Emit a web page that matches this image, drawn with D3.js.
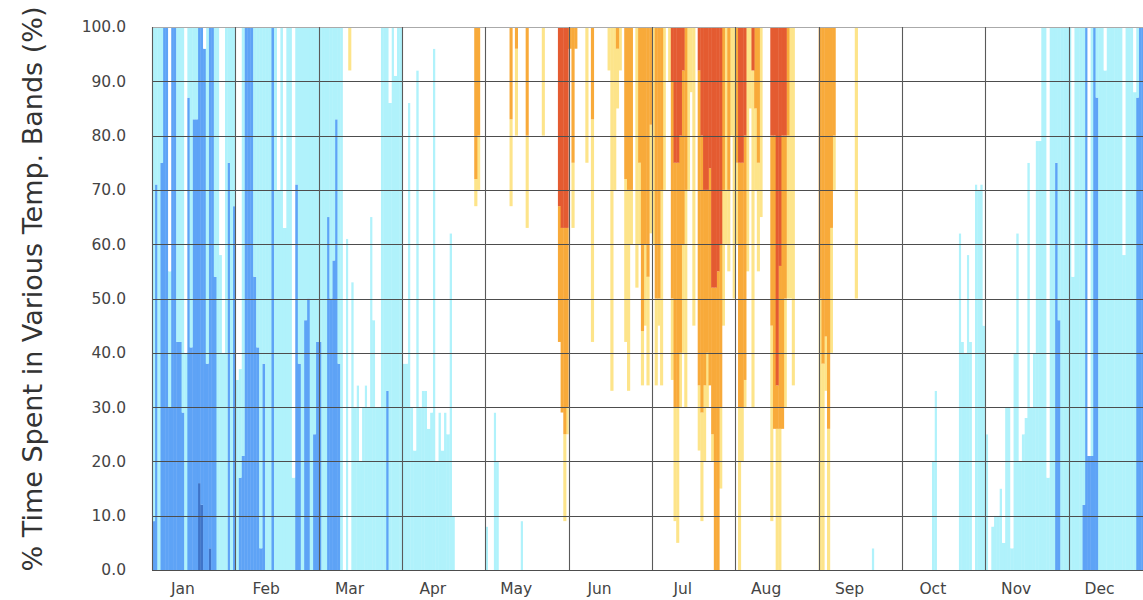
<!DOCTYPE html>
<html lang="en">
<head>
<meta charset="utf-8">
<title>Time Spent in Temperature Bands</title>
<script src="https://d3js.org/d3.v7.min.js"></script>
<style>
  body { margin: 0; background: #fff; }
  text { font-family: "DejaVu Sans", Verdana, sans-serif; }
</style>
</head>
<body>
<script>
// x categories
var months = ["Jan","Feb","Mar","Apr","May","Jun","Jul","Aug","Sep","Oct","Nov","Dec"];
// stacked bands, coldest at the bottom
var bands = ["very cold","cold","cool","comfortable","warm","hot","very hot"];
var yTicks = [0,10,20,30,40,50,60,70,80,90,100];

// one row per day: % of the day in each band, same order as bands
var jan = [[0,9,91,0,0,0,0],[0,71,29,0,0,0,0],[0,0,100,0,0,0,0],[0,75,25,0,0,0,0],[0,100,0,0,0,0,0],[0,100,0,0,0,0,0],
  [0,30,25,45,0,0,0],[0,100,0,0,0,0,0],[0,100,0,0,0,0,0],[0,42,58,0,0,0,0],[0,42,58,0,0,0,0],[0,29,71,0,0,0,0],
  [0,0,40,60,0,0,0],[0,87,13,0,0,0,0],[0,41,59,0,0,0,0],[0,83,17,0,0,0,0],[0,83,17,0,0,0,0],[16,84,0,0,0,0,0],
  [12,88,0,0,0,0,0],[0,96,0,4,0,0,0],[0,38,62,0,0,0,0],[4,96,0,0,0,0,0],[0,100,0,0,0,0,0],[0,54,46,0,0,0,0],
  [0,0,100,0,0,0,0],[0,0,58,42,0,0,0],[0,0,40,60,0,0,0],[0,0,100,0,0,0,0],[0,75,25,0,0,0,0],[0,0,100,0,0,0,0],
  [0,67,33,0,0,0,0]];
var feb = [[0,0,35,65,0,0,0],[0,17,20,63,0,0,0],[0,21,79,0,0,0,0],[0,100,0,0,0,0,0],[0,100,0,0,0,0,0],[0,100,0,0,0,0,0],
  [0,54,46,0,0,0,0],[0,41,59,0,0,0,0],[0,4,96,0,0,0,0],[0,38,62,0,0,0,0],[0,0,100,0,0,0,0],[0,0,100,0,0,0,0],
  [0,100,0,0,0,0,0],[0,0,100,0,0,0,0],[0,0,70,30,0,0,0],[0,0,100,0,0,0,0],[0,0,63,37,0,0,0],[0,0,100,0,0,0,0],
  [0,0,100,0,0,0,0],[0,0,17,83,0,0,0],[0,71,29,0,0,0,0],[0,38,62,0,0,0,0],[0,0,100,0,0,0,0],[0,46,54,0,0,0,0],
  [0,50,50,0,0,0,0],[0,0,100,0,0,0,0],[0,25,75,0,0,0,0],[0,42,58,0,0,0,0]];
var mar = [[0,42,58,0,0,0,0],[0,0,100,0,0,0,0],[0,0,100,0,0,0,0],[0,65,35,0,0,0,0],[0,50,50,0,0,0,0],[0,57,43,0,0,0,0],
  [0,83,17,0,0,0,0],[0,38,62,0,0,0,0],[0,0,100,0,0,0,0],[0,0,0,100,0,0,0],[0,0,61,39,0,0,0],[0,0,0,92,8,0,0],
  [0,0,53,47,0,0,0],[0,0,30,70,0,0,0],[0,0,34,66,0,0,0],[0,0,20,80,0,0,0],[0,0,30,70,0,0,0],[0,0,34,66,0,0,0],
  [0,0,30,70,0,0,0],[0,0,65,35,0,0,0],[0,0,46,54,0,0,0],[0,0,30,70,0,0,0],[0,0,30,70,0,0,0],[0,0,100,0,0,0,0],
  [0,0,100,0,0,0,0],[0,33,67,0,0,0,0],[0,0,86,14,0,0,0],[0,0,100,0,0,0,0],[0,0,91,9,0,0,0],[0,0,100,0,0,0,0],
  [0,0,100,0,0,0,0]];
var apr = [[0,0,38,62,0,0,0],[0,0,38,62,0,0,0],[0,0,86,14,0,0,0],[0,0,30,70,0,0,0],[0,0,22,78,0,0,0],[0,0,92,8,0,0,0],
  [0,0,30,70,0,0,0],[0,0,33,67,0,0,0],[0,0,33,67,0,0,0],[0,0,26,74,0,0,0],[0,0,29,71,0,0,0],[0,0,96,4,0,0,0],
  [0,0,20,80,0,0,0],[0,0,29,71,0,0,0],[0,0,22,78,0,0,0],[0,0,29,71,0,0,0],[0,0,25,75,0,0,0],[0,0,62,38,0,0,0],
  [0,0,10,90,0,0,0],[0,0,0,100,0,0,0],[0,0,0,100,0,0,0],[0,0,0,100,0,0,0],[0,0,0,100,0,0,0],[0,0,0,100,0,0,0],
  [0,0,0,100,0,0,0],[0,0,0,100,0,0,0],[0,0,0,67,5,28,0],[0,0,0,70,10,20,0],[0,0,0,100,0,0,0],[0,0,0,100,0,0,0]];
var may = [[0,0,8,92,0,0,0],[0,0,0,100,0,0,0],[0,0,0,100,0,0,0],[0,0,29,71,0,0,0],[0,0,20,80,0,0,0],[0,0,0,100,0,0,0],
  [0,0,0,100,0,0,0],[0,0,0,100,0,0,0],[0,0,0,100,0,0,0],[0,0,0,67,16,17,0],[0,0,0,100,0,0,0],[0,0,0,80,16,4,0],
  [0,0,0,100,0,0,0],[0,0,9,91,0,0,0],[0,0,0,100,0,0,0],[0,0,0,63,17,20,0],[0,0,0,100,0,0,0],[0,0,0,100,0,0,0],
  [0,0,0,100,0,0,0],[0,0,0,100,0,0,0],[0,0,0,100,0,0,0],[0,0,0,80,20,0,0],[0,0,0,100,0,0,0],[0,0,0,100,0,0,0],
  [0,0,0,100,0,0,0],[0,0,0,100,0,0,0],[0,0,0,100,0,0,0],[0,0,0,42,0,25,33],[0,0,0,29,0,34,37],[0,0,0,9,16,38,37],
  [0,0,0,25,5,33,37]];
var jun = [[0,0,0,96,0,4,0],[0,0,0,63,12,25,0],[0,0,0,96,0,4,0],[0,0,0,100,0,0,0],[0,0,0,100,0,0,0],[0,0,0,100,0,0,0],
  [0,0,0,75,25,0,0],[0,0,0,100,0,0,0],[0,0,0,42,41,17,0],[0,0,0,100,0,0,0],[0,0,0,100,0,0,0],[0,0,0,100,0,0,0],
  [0,0,0,100,0,0,0],[0,0,0,100,0,0,0],[0,0,0,92,8,0,0],[0,0,0,33,67,0,0],[0,0,0,70,30,0,0],[0,0,0,85,11,4,0],
  [0,0,0,92,8,0,0],[0,0,0,100,0,0,0],[0,0,0,42,30,28,0],[0,0,0,33,37,30,0],[0,0,0,60,10,30,0],[0,0,0,100,0,0,0],
  [0,0,0,52,48,0,0],[0,0,0,60,15,25,0],[0,0,0,34,10,56,0],[0,0,0,45,15,40,0],[0,0,0,34,20,46,0],[0,0,0,62,20,18,0]];
var jul = [[0,0,0,60,40,0,0],[0,0,0,34,16,50,0],[0,0,0,45,5,50,0],[0,0,0,34,36,30,0],[0,0,0,70,30,0,0],[0,0,0,100,0,0,0],
  [0,0,0,90,10,0,0],[0,0,0,35,15,40,10],[0,0,0,9,21,45,25],[0,0,0,5,25,45,25],[0,0,0,30,10,40,20],[0,0,0,40,20,32,8],
  [0,0,0,30,40,30,0],[0,0,0,70,30,0,0],[0,0,0,88,12,0,0],[0,0,0,45,55,0,0],[0,0,0,100,0,0,0],[0,0,0,22,12,58,8],
  [0,0,0,9,20,51,20],[0,0,0,20,14,36,30],[0,0,0,30,10,30,30],[0,0,0,34,0,40,26],[0,0,0,20,5,27,48],[0,0,0,0,0,52,48],
  [0,0,0,0,0,55,45],[0,0,0,15,15,30,40],[0,0,0,45,25,30,0],[0,0,0,60,40,0,0],[0,0,0,55,15,30,0],[0,0,0,80,20,0,0],
  [0,0,0,50,50,0,0]];
var aug = [[0,0,0,60,15,25,0],[0,0,0,0,30,45,25],[0,0,0,20,10,45,25],[0,0,0,30,5,45,20],[0,0,0,55,45,0,0],[0,0,0,85,15,0,0],
  [0,0,0,30,62,0,8],[0,0,0,70,15,15,0],[0,0,0,55,20,25,0],[0,0,0,65,35,0,0],[0,0,0,100,0,0,0],[0,0,0,100,0,0,0],
  [0,0,0,100,0,0,0],[0,0,0,9,36,35,20],[0,0,0,26,0,54,20],[0,0,0,0,26,8,66],[0,0,0,0,26,30,44],[0,0,0,26,0,54,20],
  [0,0,0,30,20,30,20],[0,0,0,50,30,20,0],[0,0,0,50,50,0,0],[0,0,0,34,66,0,0],[0,0,0,100,0,0,0],[0,0,0,100,0,0,0],
  [0,0,0,100,0,0,0],[0,0,0,100,0,0,0],[0,0,0,100,0,0,0],[0,0,0,100,0,0,0],[0,0,0,100,0,0,0],[0,0,0,100,0,0,0],
  [0,0,0,100,0,0,0]];
var sep = [[0,0,0,0,50,50,0],[0,0,0,0,38,62,0],[0,0,0,33,10,57,0],[0,0,0,0,26,74,0],[0,0,0,40,23,37,0],[0,0,0,70,10,20,0],
  [0,0,0,100,0,0,0],[0,0,0,100,0,0,0],[0,0,0,100,0,0,0],[0,0,0,100,0,0,0],[0,0,0,100,0,0,0],[0,0,0,100,0,0,0],
  [0,0,0,100,0,0,0],[0,0,0,50,50,0,0],[0,0,0,100,0,0,0],[0,0,0,100,0,0,0],[0,0,0,100,0,0,0],[0,0,0,100,0,0,0],
  [0,0,0,100,0,0,0],[0,0,4,96,0,0,0],[0,0,0,100,0,0,0],[0,0,0,100,0,0,0],[0,0,0,100,0,0,0],[0,0,0,100,0,0,0],
  [0,0,0,100,0,0,0],[0,0,0,100,0,0,0],[0,0,0,100,0,0,0],[0,0,0,100,0,0,0],[0,0,0,100,0,0,0],[0,0,0,100,0,0,0]];
var oct = [[0,0,0,100,0,0,0],[0,0,0,100,0,0,0],[0,0,0,100,0,0,0],[0,0,0,100,0,0,0],[0,0,0,100,0,0,0],[0,0,0,100,0,0,0],
  [0,0,0,100,0,0,0],[0,0,0,100,0,0,0],[0,0,0,100,0,0,0],[0,0,0,100,0,0,0],[0,0,0,100,0,0,0],[0,0,20,80,0,0,0],
  [0,0,33,67,0,0,0],[0,0,0,100,0,0,0],[0,0,0,100,0,0,0],[0,0,0,100,0,0,0],[0,0,0,100,0,0,0],[0,0,0,100,0,0,0],
  [0,0,0,100,0,0,0],[0,0,0,100,0,0,0],[0,0,0,100,0,0,0],[0,0,62,38,0,0,0],[0,0,42,58,0,0,0],[0,0,40,60,0,0,0],
  [0,0,58,42,0,0,0],[0,0,42,58,0,0,0],[0,0,0,100,0,0,0],[0,0,71,29,0,0,0],[0,0,70,30,0,0,0],[0,0,71,29,0,0,0],
  [0,0,45,55,0,0,0]];
var nov = [[0,0,25,75,0,0,0],[0,0,0,100,0,0,0],[0,0,8,92,0,0,0],[0,0,10,90,0,0,0],[0,0,10,90,0,0,0],[0,0,15,85,0,0,0],
  [0,0,5,95,0,0,0],[0,0,30,70,0,0,0],[0,0,30,70,0,0,0],[0,0,4,96,0,0,0],[0,0,40,60,0,0,0],[0,0,62,38,0,0,0],
  [0,0,20,80,0,0,0],[0,0,25,75,0,0,0],[0,0,28,72,0,0,0],[0,0,75,25,0,0,0],[0,0,30,70,0,0,0],[0,0,40,60,0,0,0],
  [0,0,79,21,0,0,0],[0,0,79,21,0,0,0],[0,0,100,0,0,0,0],[0,0,100,0,0,0,0],[0,0,17,83,0,0,0],[0,0,100,0,0,0,0],
  [0,0,100,0,0,0,0],[0,75,25,0,0,0,0],[0,46,54,0,0,0,0],[0,0,100,0,0,0,0],[0,0,100,0,0,0,0],[0,0,100,0,0,0,0]];
var dec = [[0,0,100,0,0,0,0],[0,0,54,46,0,0,0],[0,0,100,0,0,0,0],[0,0,100,0,0,0,0],[0,0,100,0,0,0,0],[0,12,88,0,0,0,0],
  [0,100,0,0,0,0,0],[0,21,0,79,0,0,0],[0,21,79,0,0,0,0],[0,100,0,0,0,0,0],[0,87,13,0,0,0,0],[0,0,100,0,0,0,0],
  [0,0,100,0,0,0,0],[0,0,92,8,0,0,0],[0,0,100,0,0,0,0],[0,0,100,0,0,0,0],[0,0,100,0,0,0,0],[0,0,100,0,0,0,0],
  [0,0,100,0,0,0,0],[0,0,100,0,0,0,0],[0,0,58,42,0,0,0],[0,0,100,0,0,0,0],[0,0,100,0,0,0,0],[0,0,100,0,0,0,0],
  [0,0,88,12,0,0,0],[0,87,13,0,0,0,0],[0,100,0,0,0,0,0],[0,100,0,0,0,0,0],[0,100,0,0,0,0,0],[0,100,0,0,0,0,0],
  [0,100,0,0,0,0,0]];

var monthData = [jan, feb, mar, apr, may, jun, jul, aug, sep, oct, nov, dec];
var bandColors = ["#3f74c8", "#5ea3f6", "#b0f2fb", "#ffffff", "#fde48a", "#f8aa3a", "#e45b31"];

var w = 1143, h = 600;
var plotLeft = 152, plotTop = 27, plotBottom = 570, plotW = 1000;

var svg = d3.select("body").append("svg")
  .attr("width", w)
  .attr("height", h);

var x = d3.scaleBand().domain(months).range([plotLeft, plotLeft + plotW]);
var y = d3.scaleLinear().domain([0, 100]).range([plotBottom, plotTop]);
var color = d3.scaleOrdinal().domain(d3.range(bands.length)).range(bandColors);
var stack = d3.stack().keys(d3.range(bands.length));

var bars = svg.append("g");
months.forEach(function(m, mi) {
  var days = monthData[mi];
  var dx = d3.scaleBand().domain(d3.range(days.length)).range([x(m), x(m) + x.bandwidth()]);
  var series = stack(days);
  bars.append("g").selectAll("g")
    .data(series)
    .enter().append("g")
    .attr("fill", function(s) { return color(s.key); })
    .selectAll("rect")
    .data(function(s) { return s.filter(function(d) { return d[1] > d[0]; }); })
    .enter().append("rect")
    .attr("x", function(d) { return dx(days.indexOf(d.data)); })
    .attr("width", dx.bandwidth() + 0.4)
    .attr("y", function(d) { return y(d[1]); })
    .attr("height", function(d) { return y(d[0]) - y(d[1]); });
});

// grid on top of the bars
svg.append("g").selectAll("line")
  .data(yTicks)
  .enter().append("line")
  .attr("x1", plotLeft).attr("x2", plotLeft + plotW)
  .attr("y1", function(d) { return Math.round(y(d)) + 0.5; })
  .attr("y2", function(d) { return Math.round(y(d)) + 0.5; })
  .attr("stroke", function(d) { return d === 100 ? "#aaa" : "#4d4d4d"; })
  .attr("stroke-width", 1.2);

svg.append("g").selectAll("line")
  .data(months)
  .enter().append("line")
  .attr("x1", function(d) { return Math.round(x(d)) + 0.5; })
  .attr("x2", function(d) { return Math.round(x(d)) + 0.5; })
  .attr("y1", plotTop).attr("y2", plotBottom)
  .attr("stroke", "#5a5a5a")
  .attr("stroke-width", 1.1);

var yAxis = d3.axisLeft(y)
  .tickValues(yTicks)
  .tickFormat(d3.format(".1f"))
  .tickSize(0)
  .tickPadding(26);

svg.append("g")
  .attr("transform", "translate(" + plotLeft + ",0)")
  .call(yAxis)
  .call(function(g) { g.select(".domain").remove(); })
  .selectAll("text")
  .style("font-size", "15.5px")
  .attr("fill", "#444");

svg.append("g").selectAll("text")
  .data(months)
  .enter().append("text")
  .attr("x", function(d) { return x(d) + x.bandwidth() * 0.37; })
  .attr("y", 594)
  .attr("text-anchor", "middle")
  .style("font-size", "15.5px")
  .attr("fill", "#444")
  .text(function(d) { return d; });

svg.append("text")
  .attr("transform", "translate(42," + 289 + ") rotate(-90)")
  .attr("text-anchor", "middle")
  .style("font-size", "27px")
  .attr("fill", "#333")
  .text("% Time Spent in Various Temp. Bands (%)");
</script>
</body>
</html>
